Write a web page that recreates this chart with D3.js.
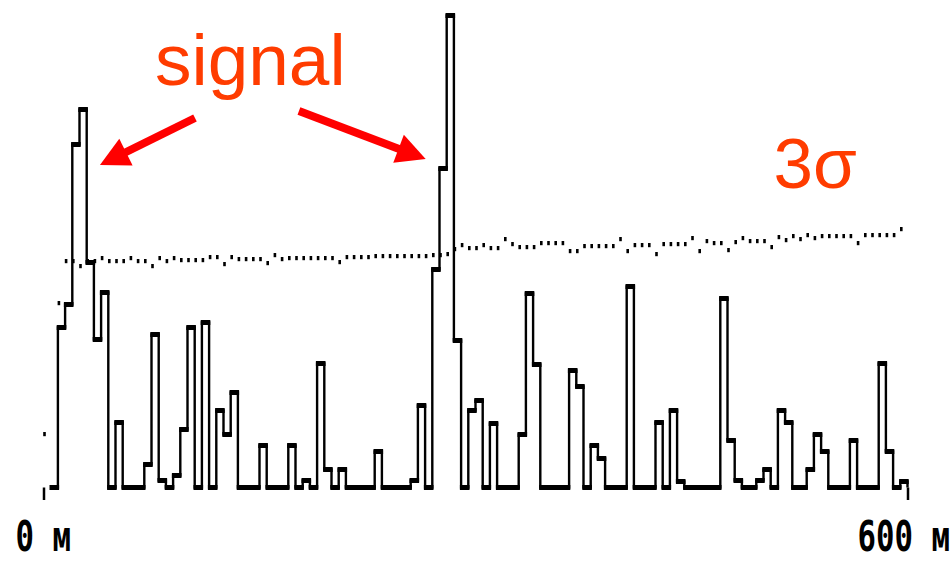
<!DOCTYPE html>
<html><head><meta charset="utf-8">
<script src="https://cdn.jsdelivr.net/npm/d3@7"></script>
<style>html,body{margin:0;padding:0;background:#fff;} svg{display:block;}</style>
</head><body><svg id="chart" width="952" height="562"></svg>
<script>
// ---- data ----
const binStartM = 5;      // first bin starts at 5 m
const binWidthM = 5;      // 5 m bins
const counts = [
  0,
  160,183,343,378,225,148,195,0,65,0,
  0,0,23,153,7,0,12,58,160,0,
  165,0,77,53,95,0,0,0,42,0,
  0,0,42,0,7,0,124,18,0,18,
  0,0,0,0,36,0,0,0,0,7,
  82,0,218,319,472,147,0,77,87,0,
  64,0,0,0,53,194,123,0,0,0,
  0,117,101,0,42,29,0,0,0,201,
  0,0,0,65,0,77,6,0,0,0,
  0,0,189,47,7,0,0,7,18,0,
  77,65,0,0,18,53,36,0,0,0,
  47,0,0,0,124,36,0,6
];
// 3-sigma threshold, one value every 5 m from 0 m
const sigmaStepM = 5;
const sigma3 = [
  53,null,184,226,226,221,226,226,229,226,
  226,226,229,226,226,221,229,226,229,227,
  227,227,227,230,230,223,230,228,228,228,
  228,224,232,228,229,229,229,229,229,229,
  229,225,230,230,230,230,231,231,231,231,
  231,231,231,231,232,232,233,238,242,239,
  239,242,239,239,248,243,240,240,240,244,
  244,244,244,236,236,241,241,241,241,241,
  248,236,242,242,242,233,243,243,243,243,
  249,236,246,244,244,237,245,249,246,246,
  246,240,250,247,251,248,252,249,251,251,
  251,251,251,244,252,252,252,252,252,258
];
const tickValues = [0, 600];
const tickUnit = "м";
const annotations = {
  signalText: {m: 77.4, v: 400, text: "signal"},
  arrows: [
    {from: {m: 105.2, v: 367}, to: {m: 39.2, v: 320}},
    {from: {m: 177.4, v: 374}, to: {m: 265.4, v: 326}}
  ],
  sigmaText: {m: 507, v: 297, text: "3σ"}
};

// ---- chart ----
const W = 952, H = 562;
const svg = d3.select("#chart");
svg.append("rect").attr("width", W).attr("height", H).attr("fill", "#fff");

const x = d3.scaleLinear().domain([0, 600]).range([43.5, 907.5]);
const y = d3.scaleLinear().domain([0, 472]).range([485, 13]);

const bins = counts.map((c, i) => ({
  x0: binStartM + i * binWidthM,
  x1: binStartM + (i + 1) * binWidthM,
  v: c
}));

const band = 5, lw = 2.4;
const g = svg.append("g");

// step outline
const pts = [];
bins.forEach(b => pts.push([b.x0, b.v]));
pts.push([bins[bins.length - 1].x1, bins[bins.length - 1].v]);
pts.push([bins[bins.length - 1].x1, 0]);
const line = d3.line()
  .x(d => x(d[0]))
  .y(d => y(d[1]) + band / 2)
  .curve(d3.curveStepAfter);
g.append("path").datum(pts)
  .attr("d", line)
  .attr("fill", "none")
  .attr("stroke", "#000")
  .attr("stroke-width", lw);

// thick tops
g.selectAll("rect.top").data(bins).join("rect")
  .attr("class", "top")
  .attr("x", d => x(d.x0) - lw / 2)
  .attr("width", d => x(d.x1) - x(d.x0) + lw)
  .attr("y", d => y(d.v))
  .attr("height", band)
  .attr("fill", "#000");

// 3 sigma dotted line
const sig = sigma3.map((v, i) => ({m: i * sigmaStepM, v})).filter(d => d.v !== null);
g.selectAll("rect.sig").data(sig).join("rect")
  .attr("class", "sig")
  .attr("x", d => x(d.m) - 0.3)
  .attr("width", 2.6)
  .attr("y", d => y(d.v))
  .attr("height", 4.2)
  .attr("fill", "#000");

// axis
const axis = d3.axisBottom(x)
  .tickValues(tickValues)
  .tickFormat(d => d + " " + tickUnit)
  .tickSize(12.5)
  .tickSizeOuter(0);
const gAxis = svg.append("g")
  .attr("transform", `translate(0,${y(0) + band / 2})`)
  .call(axis);
gAxis.select(".domain").remove();
gAxis.selectAll(".tick line").attr("stroke", "#000").attr("stroke-width", 2.5);
gAxis.selectAll(".tick text")
  .attr("y", 64).attr("dy", 0)
  .attr("dx", (d, i) => i === 0 ? -1 : -6)
  .attr("font-family", "DejaVu Sans Mono")
  .attr("font-weight", "bold")
  .attr("font-size", 43)
  .attr("fill", "#000")
  .attr("text-anchor", "middle")
  .attr("transform", "scale(0.715,1)");

// annotations
const red = "#ff0000", textRed = "#ff3c00";
svg.append("text")
  .attr("x", x(annotations.signalText.m))
  .attr("y", y(annotations.signalText.v))
  .attr("font-family", "Liberation Sans, Arial, sans-serif")
  .attr("font-size", 73)
  .attr("fill", textRed)
  .text(annotations.signalText.text);
svg.append("text")
  .attr("x", x(annotations.sigmaText.m))
  .attr("y", y(annotations.sigmaText.v))
  .attr("font-family", "Liberation Sans, Arial, sans-serif")
  .attr("font-size", 71)
  .attr("fill", textRed)
  .text(annotations.sigmaText.text);

const headLen = 29, headHalf = 15;
annotations.arrows.forEach(a => {
  const x0 = x(a.from.m), y0 = y(a.from.v), x1 = x(a.to.m), y1 = y(a.to.v);
  const dx = x1 - x0, dy = y1 - y0, L = Math.hypot(dx, dy);
  const ux = dx / L, uy = dy / L, px = -uy, py = ux;
  const bx = x1 - ux * headLen, by = y1 - uy * headLen;
  svg.append("line")
    .attr("x1", x0).attr("y1", y0).attr("x2", bx + ux * 2).attr("y2", by + uy * 2)
    .attr("stroke", red).attr("stroke-width", 8);
  svg.append("path")
    .attr("d", `M${x1},${y1}L${bx + px * headHalf},${by + py * headHalf}L${bx - px * headHalf},${by - py * headHalf}Z`)
    .attr("fill", red);
});
</script>
</body></html>
